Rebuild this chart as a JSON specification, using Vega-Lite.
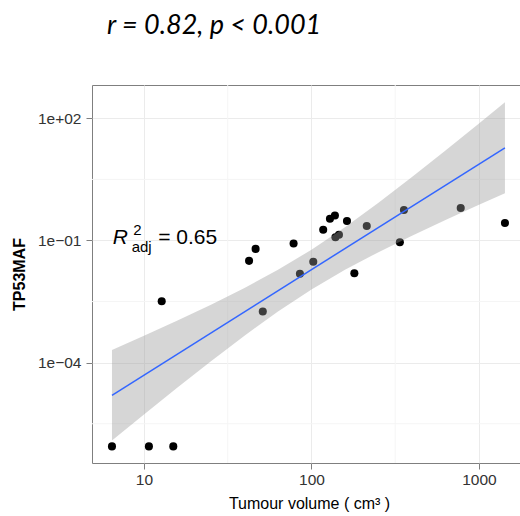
{
  "$schema": "https://vega.github.io/schema/vega-lite/v6.json",
  "width": 428,
  "height": 378,
  "autosize": {"type": "none"},
  "padding": {"left": 92, "top": 85, "right": 0, "bottom": 53},
  "background": "white",
  "title": {
    "text": "r = 0.82, p < 0.001",
    "font": "Lato",
    "fontSize": 27,
    "fontStyle": "italic",
    "fontWeight": "normal",
    "color": "black",
    "anchor": "start",
    "frame": "group",
    "dx": 15,
    "offset": 24,
    "baseline": "alphabetic"
  },
  "config": {
    "view": {"stroke": "#7F7F7F", "strokeWidth": 1},
    "axis": {
      "domain": false,
      "gridColor": "#EBEBEB",
      "gridWidth": 1,
      "tickColor": "#7F7F7F",
      "tickSize": 6,
      "labelFont": "Liberation Sans",
      "labelFontSize": 15.5,
      "labelColor": "#333333",
      "titleFont": "Liberation Sans",
      "titleFontSize": 16,
      "titleColor": "black"
    },
    "axisX": {"labelPadding": 3, "titlePadding": 8, "titleFontWeight": "normal", "titleX": 217},
    "axisY": {"labelPadding": 5, "titlePadding": 10, "titleFontWeight": "bold"}
  },
  "datasets": {
    "points": [
      {"x": 6.44, "y": 8.8e-7},
      {"x": 10.7, "y": 8.8e-7},
      {"x": 14.96, "y": 8.8e-7},
      {"x": 12.76, "y": 0.00323},
      {"x": 42.4, "y": 0.0316},
      {"x": 46.4, "y": 0.0622},
      {"x": 51.2, "y": 0.0018},
      {"x": 78.2, "y": 0.0844},
      {"x": 85.3, "y": 0.0153},
      {"x": 102.5, "y": 0.0302},
      {"x": 117.5, "y": 0.184},
      {"x": 128.9, "y": 0.343},
      {"x": 138, "y": 0.411},
      {"x": 139, "y": 0.12},
      {"x": 145.9, "y": 0.139},
      {"x": 162.9, "y": 0.301},
      {"x": 180.3, "y": 0.0157},
      {"x": 213.8, "y": 0.227},
      {"x": 337, "y": 0.0908},
      {"x": 356.5, "y": 0.561},
      {"x": 778, "y": 0.63},
      {"x": 1429, "y": 0.27}
    ],
    "band": [
      {"x": 6.44, "lo": 1.23e-6, "hi": 0.000205},
      {"x": 10, "lo": 5.35e-6, "hi": 0.000459},
      {"x": 15.85, "lo": 2.45e-5, "hi": 0.00109},
      {"x": 25.12, "lo": 0.000109, "hi": 0.00266},
      {"x": 39.81, "lo": 0.000461, "hi": 0.00682},
      {"x": 63.1, "lo": 0.0018, "hi": 0.019},
      {"x": 100, "lo": 0.00625, "hi": 0.0594},
      {"x": 158.5, "lo": 0.019, "hi": 0.212},
      {"x": 251.2, "lo": 0.0518, "hi": 0.847},
      {"x": 398.1, "lo": 0.131, "hi": 3.63},
      {"x": 631, "lo": 0.318, "hi": 16.3},
      {"x": 1000, "lo": 0.75, "hi": 75},
      {"x": 1429, "lo": 1.445, "hi": 248}
    ],
    "fit": [
      {"x": 6.44, "y": 1.58e-5},
      {"x": 1429, "y": 18.9}
    ],
    "gx": [{"v": 31.62}, {"v": 316.2}],
    "gy": [{"v": 3.162e-6}, {"v": 0.003162}, {"v": 3.162}],
    "annot": [{"x": 6.5, "y": 0.081}]
  },
  "layer": [
    {
      "data": {"name": "gx"},
      "mark": {"type": "rule", "color": "#F5F5F5", "strokeWidth": 1},
      "encoding": {
        "x": {"field": "v", "type": "quantitative", "title": "Tumour volume ( cm³ )",
              "scale": {"type": "log", "domain": [4.894, 1757.6], "nice": false, "zero": false}}
      }
    },
    {
      "data": {"name": "gy"},
      "mark": {"type": "rule", "color": "#F5F5F5", "strokeWidth": 1},
      "encoding": {
        "y": {"field": "v", "type": "quantitative", "title": "TP53MAF",
              "scale": {"type": "log", "domain": [3.44e-7, 657.7], "nice": false, "zero": false}}
      }
    },
    {
      "data": {"name": "points"},
      "mark": {"type": "circle", "color": "black", "opacity": 1, "size": 65},
      "encoding": {
        "x": {"field": "x", "type": "quantitative", "title": "Tumour volume ( cm³ )",
              "scale": {"type": "log", "domain": [4.894, 1757.6], "nice": false, "zero": false},
              "axis": {"values": [10, 100, 1000], "format": "d"}},
        "y": {"field": "y", "type": "quantitative", "title": "TP53MAF",
              "scale": {"type": "log", "domain": [3.44e-7, 657.7], "nice": false, "zero": false},
              "axis": {"values": [0.0001, 0.1, 100],
                       "labelExpr": "datum.value > 1 ? '1e+02' : (datum.value > 0.001 ? '1e−01' : '1e−04')"}}
      }
    },
    {
      "data": {"name": "band"},
      "mark": {"type": "area", "color": "#999999", "opacity": 0.4},
      "encoding": {
        "x": {"field": "x", "type": "quantitative", "title": "Tumour volume ( cm³ )",
              "scale": {"type": "log", "domain": [4.894, 1757.6], "nice": false, "zero": false}},
        "y": {"field": "lo", "type": "quantitative", "title": "TP53MAF",
              "scale": {"type": "log", "domain": [3.44e-7, 657.7], "nice": false, "zero": false}},
        "y2": {"field": "hi"}
      }
    },
    {
      "data": {"name": "fit"},
      "mark": {"type": "line", "color": "#3366FF", "strokeWidth": 1.5},
      "encoding": {
        "x": {"field": "x", "type": "quantitative", "title": "Tumour volume ( cm³ )",
              "scale": {"type": "log", "domain": [4.894, 1757.6], "nice": false, "zero": false}},
        "y": {"field": "y", "type": "quantitative", "title": "TP53MAF",
              "scale": {"type": "log", "domain": [3.44e-7, 657.7], "nice": false, "zero": false}}
      }
    },
    {
      "data": {"name": "annot"},
      "encoding": {
        "x": {"field": "x", "type": "quantitative", "title": "Tumour volume ( cm³ )",
              "scale": {"type": "log", "domain": [4.894, 1757.6], "nice": false, "zero": false}},
        "y": {"field": "y", "type": "quantitative", "title": "TP53MAF",
              "scale": {"type": "log", "domain": [3.44e-7, 657.7], "nice": false, "zero": false}}
      },
      "layer": [
        {"mark": {"type": "text", "text": "R", "font": "Liberation Sans", "fontSize": 21, "fontStyle": "italic", "align": "left", "baseline": "alphabetic", "color": "black"}},
        {"mark": {"type": "text", "text": "2", "font": "Liberation Sans", "fontSize": 15, "align": "left", "baseline": "alphabetic", "color": "black", "dx": 20.6, "dy": -9.5}},
        {"mark": {"type": "text", "text": "adj", "font": "Liberation Sans", "fontSize": 15, "align": "left", "baseline": "alphabetic", "color": "black", "dx": 19, "dy": 7.7}},
        {"mark": {"type": "text", "text": "= 0.65", "font": "Liberation Sans", "fontSize": 21, "align": "left", "baseline": "alphabetic", "color": "black", "dx": 45.6}}
      ]
    }
  ]
}
